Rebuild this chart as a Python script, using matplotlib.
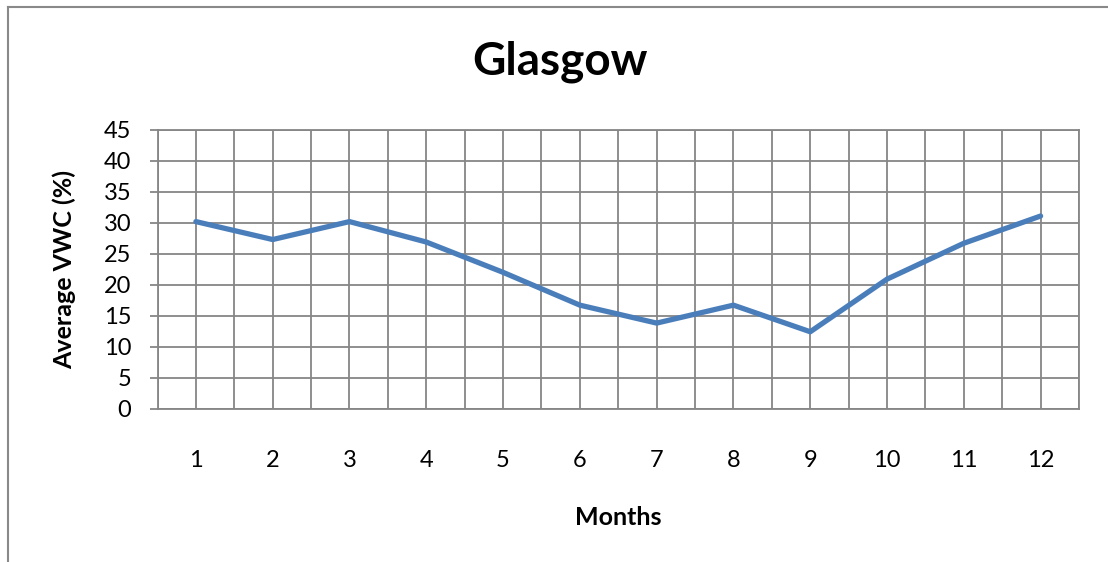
import matplotlib.pyplot as plt
from matplotlib.lines import Line2D
import numpy as np

months = [1, 2, 3, 4, 5, 6, 7, 8, 9, 10, 11, 12]
vwc = [30.2, 27.3, 30.2, 26.9, 22.0, 16.7, 13.8, 16.7, 12.4, 20.9, 26.7, 31.1]
y_ticks = [0, 5, 10, 15, 20, 25, 30, 35, 40, 45]

plt.rcParams['font.family'] = ['Lato', 'DejaVu Sans']

W, H = 1108, 562
fig = plt.figure(figsize=(W / 100, H / 100), dpi=100)
ax = fig.add_axes([157.5 / W, 1 - 408.5 / H, (1079 - 157.5) / W, (408.5 - 130) / H])

grid_col = '#868686'
ax.plot(months, vwc, color='#4A7EBB', linewidth=3.8, solid_capstyle='round', zorder=3)

ax.set_xlim(0.5, 12.5)
ax.set_ylim(0, 45)
ax.set_xticks(months)
ax.set_xticks(np.arange(0.5, 13, 1), minor=True)
ax.set_yticks(y_ticks)
ax.grid(True, which='both', axis='x', color=grid_col, linewidth=1.3)
ax.grid(True, which='major', axis='y', color=grid_col, linewidth=1.3)
ax.set_axisbelow(True)

for s in ax.spines.values():
    s.set_color(grid_col)
    s.set_linewidth(1.3)

ax.tick_params(axis='y', which='major', direction='out', length=6, width=1.3,
               color=grid_col, labelsize=17, pad=13)
ax.tick_params(axis='x', which='both', length=0, labelsize=17, pad=30)

# chart title, centred on the whole chart area
fig.text(560 / W, 1 - 62 / H, 'Glasgow', fontsize=33, fontweight='bold',
         ha='center', va='center')
ax.set_xlabel('Months', fontsize=18, fontweight='bold', labelpad=25)
ax.set_ylabel('Average VWC (%)', fontsize=18, fontweight='bold', labelpad=20)

# outer chart border
fig.add_artist(Line2D([8 / W, 8 / W], [0, 1 - 7 / H], color='#898989', linewidth=1.5))
fig.add_artist(Line2D([8 / W, 1], [1 - 7 / H, 1 - 7 / H], color='#898989', linewidth=1.5))

fig.savefig('out.png', dpi=100)
